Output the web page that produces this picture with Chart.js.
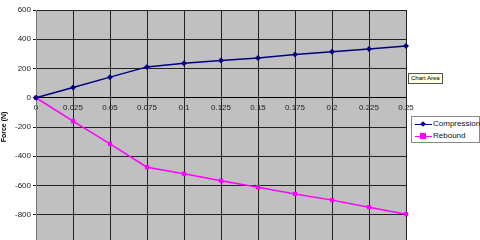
<!DOCTYPE html>
<html>
<head>
<meta charset="utf-8">
<script src="https://cdn.jsdelivr.net/npm/chart.js@4/dist/chart.umd.min.js"></script>
<style>
    html, body { margin: 0; padding: 0; background: #fff; overflow: hidden; }
    #wrap { position: relative; width: 480px; height: 240px; overflow: hidden; }
    #box { position: absolute; left: 0; top: 0; width: 480px; height: 252px; }
    #legend {
        position: absolute; left: 411px; top: 116px; width: 67px; height: 25px;
        border: 1px solid #888; background: #fff;
        font: 8px "Liberation Sans", Arial, sans-serif; color: #111;
    }
    .leg-row { position: relative; height: 10px; line-height: 10px; padding-left: 21px; margin-top: 2px; white-space: nowrap; }
    .leg-line { position: absolute; left: 3px; top: 5px; width: 17px; height: 1px; }
    .leg-mark { position: absolute; left: 9px; }
    #tip {
        position: absolute; left: 408px; top: 73px; padding: 0 2px;
        border: 1px solid #555; background: #ffffe1;
        font: 6px "Liberation Sans", Arial, sans-serif; color: #000; line-height: 9px;
    }
</style>
</head>
<body>
<div id="wrap">
    <div id="box"><canvas id="chart"></canvas></div>
    <div id="tip">Chart Area</div>
    <div id="legend"></div>
</div>
<script>
const travel      = ['0', '0.025', '0.05', '0.075', '0.1', '0.125', '0.15', '0.175', '0.2', '0.225', '0.25'];
const compression = [0, 70, 141, 211, 236, 254, 272, 295, 315, 333, 354];
const rebound     = [0, -160, -315, -475, -520, -567, -612, -658, -700, -748, -796];

const NAVY    = '#000080';
const MAGENTA = '#ff00ff';

// gris de fondo del area de trazado, estilo Excel
const plotBg = {
    id: 'plotBg',
    beforeDraw(chart) {
        const a = chart.chartArea;
        const ctx = chart.ctx;
        ctx.save();
        ctx.fillStyle = '#c0c0c0';
        ctx.fillRect(a.left, a.top, a.right - a.left, a.bottom - a.top);
        ctx.restore();
    }
};

const chart = new Chart(document.getElementById('chart').getContext('2d'), {
    type: 'line',
    data: {
        labels: travel,
        datasets: [
            {
                label: 'Compression',
                data: compression,
                borderColor: NAVY,
                backgroundColor: NAVY,
                borderWidth: 1.5,
                pointStyle: 'rectRot',
                pointRadius: 3,
                pointBorderWidth: 0,
                tension: 0,
            },
            {
                label: 'Rebound',
                data: rebound,
                borderColor: MAGENTA,
                backgroundColor: MAGENTA,
                borderWidth: 1.5,
                pointStyle: 'rect',
                pointRadius: 3,
                pointBorderWidth: 0,
                tension: 0,
            },
        ]
    },
    options: {
        animation: false,
        responsive: true,
        maintainAspectRatio: false,
        layout: { padding: { left: 0, right: 74, top: 10, bottom: 8 } },
        plugins: {
            legend: { display: false },
            tooltip: { enabled: false },
        },
        scales: {
            x: {
                position: { y: 0 },
                offset: false,
                ticks: {
                    color: '#222',
                    maxRotation: 0,
                    autoSkip: false,
                    padding: 5,
                    font: { family: 'Liberation Sans', size: 8 }
                },
                grid: { color: '#222', lineWidth: 1, drawTicks: false },
                border: { color: '#000', width: 1 }
            },
            y: {
                min: -1000, max: 600,
                afterFit: s => { s.width = 36; },
                ticks: {
                    stepSize: 200,
                    color: '#222',
                    padding: 2,
                    font: { family: 'Liberation Sans', size: 8 }
                },
                title: {
                    display: true,
                    text: 'Force (N)',
                    color: '#000',
                    padding: 0,
                    font: { family: 'Liberation Sans', size: 7, weight: 'bold' }
                },
                grid: { color: '#222', lineWidth: 1, tickLength: 3 },
                border: { color: '#777', width: 1 }
            }
        }
    },
    plugins: [plotBg]
});

document.getElementById('legend').innerHTML = chart.data.datasets.map(ds => {
    const mark = ds.pointStyle === 'rectRot'
        ? `<span class="leg-mark" style="top:3px;width:4px;height:4px;background:${ds.borderColor};transform:rotate(45deg)"></span>`
        : `<span class="leg-mark" style="top:2px;width:6px;height:6px;left:8px;background:${ds.borderColor}"></span>`;
    return `<div class="leg-row"><span class="leg-line" style="background:${ds.borderColor}"></span>${mark}${ds.label}</div>`;
}).join('');
</script>
</body>
</html>
